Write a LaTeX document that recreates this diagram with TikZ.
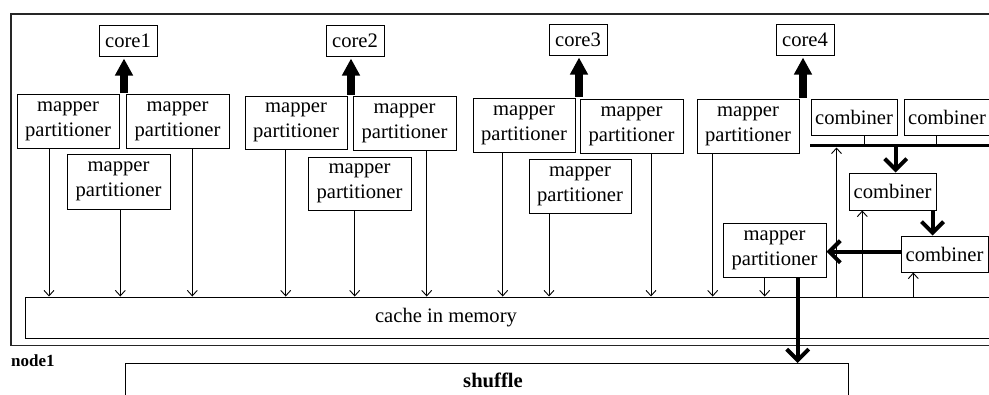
\documentclass[tikz,border=0pt]{standalone}
\usepackage{fontspec}
\setmainfont{Liberation Serif}
\usetikzlibrary{arrows.meta}

\tikzset{
  box/.style={draw, line width=1pt, inner sep=0pt, align=center,
              font=\fontsize{20.6}{25}\selectfont},
  mp/.style={box, minimum width=102pt, minimum height=54pt},
  corebox/.style={box, minimum width=58pt, minimum height=31pt},
  cmb/.style={box, minimum width=86pt, minimum height=36pt},
  flow/.style={line width=0.9pt, -{Straight Barb[length=5.5pt,width=10pt]}},
  heavy/.style={line width=4pt, -{Straight Barb[length=11pt,width=22pt]}},
  corearrow/.style={line width=8pt, -{Triangle[length=17pt,width=17pt]}},
  frameline/.style={line width=1.2pt, draw=black!85},
}

\begin{document}
\begin{tikzpicture}[x=1pt, y=-1pt]
\useasboundingbox (0,0) rectangle (989,394);
\clip (0,0) rectangle (989,394);

% node frame and shuffle stage
\draw[frameline] (11,14) rectangle (1010,345.7);
\node[anchor=base west, inner sep=0pt, font=\bfseries\fontsize{17}{17}\selectfont] (nodelabel) at (11,366) {node1};
\draw[line width=1pt] (125,363) rectangle (848,430);
\node[anchor=base, inner sep=0pt, font=\bfseries\fontsize{20.6}{25}\selectfont] (shufflelabel) at (493,387) {shuffle};

% cache
\node[box, minimum width=985pt, minimum height=41pt] (cache) at (517.5,317.5) {};
\node[inner sep=0pt, font=\fontsize{20.6}{25}\selectfont] (cachelabel) at (446,317.5) {cache in memory};

% cores
\node[corebox] (core1) at (128,40.5) {core1};
\node[corebox] (core2) at (355,40.5) {core2};
\node[corebox] (core3) at (578,39.5) {core3};
\node[corebox] (core4) at (805,39.5) {core4};

% mapper/partitioner boxes
\node[mp, minimum width=102pt] (mp1) at (68,121) {mapper\\partitioner};
\node[mp, minimum width=103pt] (mp2) at (177.5,121) {mapper\\partitioner};
\node[mp, minimum width=103pt, minimum height=55pt] (mp3) at (118.5,181.5) {mapper\\partitioner};
\node[mp, minimum height=53pt] (mp4) at (296,122.5) {mapper\\partitioner};
\node[mp, minimum width=103pt] (mp5) at (404.5,123) {mapper\\partitioner};
\node[mp, minimum width=103pt, minimum height=53pt] (mp6) at (359.5,183.5) {mapper\\partitioner};
\node[mp] (mp7) at (524,125) {mapper\\partitioner};
\node[mp, minimum width=103pt] (mp8) at (631.5,126) {mapper\\partitioner};
\node[mp] (mp9) at (580,186) {mapper\\partitioner};
\node[mp] (mp10) at (748,126) {mapper\\partitioner};
\node[mp, minimum width=103pt] (mp11) at (774.5,250) {mapper\\partitioner};

% combiners
\node[cmb] (cmbA) at (854,117) {combiner};
\node[cmb] (cmbB) at (947,117) {combiner};
\node[cmb, minimum width=87pt, minimum height=37pt] (cmbC) at (892.5,191.5) {combiner};
\node[cmb, minimum width=87pt] (cmbD) at (944.5,254) {combiner};

% arrows to cores
\coordinate (a1) at (124,93);
\coordinate (a2) at (351,95);
\coordinate (a3) at (579,97);
\coordinate (a4) at (803,98);
\draw[corearrow, shorten >=2pt] (a1) -- (a1 |- core1.south);
\draw[corearrow, shorten >=2pt] (a2) -- (a2 |- core2.south);
\draw[corearrow, shorten >=2pt] (a3) -- (a3 |- core3.south);
\draw[corearrow, shorten >=2pt] (a4) -- (a4 |- core4.south);

% mapper outputs into the cache
\draw[flow] (49,0 |- mp1.south) -- (49,0 |- cache.north);
\draw[flow] (120.3,0 |- mp3.south) -- (120.3,0 |- cache.north);
\draw[flow] (192.3,0 |- mp2.south) -- (192.3,0 |- cache.north);
\draw[flow] (285.7,0 |- mp4.south) -- (285.7,0 |- cache.north);
\draw[flow] (354.7,0 |- mp6.south) -- (354.7,0 |- cache.north);
\draw[flow] (426.7,0 |- mp5.south) -- (426.7,0 |- cache.north);
\draw[flow] (502.7,0 |- mp7.south) -- (502.7,0 |- cache.north);
\draw[flow] (549,0 |- mp9.south) -- (549,0 |- cache.north);
\draw[flow] (651,0 |- mp8.south) -- (651,0 |- cache.north);
\draw[flow] (712.7,0 |- mp10.south) -- (712.7,0 |- cache.north);
\draw[flow] (764.7,0 |- mp11.south) -- (764.7,0 |- cache.north);

% combiner bus
\coordinate (busL) at (810,145.5);
\coordinate (busR) at (1010,145.5);
\draw[line width=3.5pt] (busL) -- (busR);
\draw[line width=1pt] (864,0 |- cmbA.south) -- (864,0 |- busL);
\draw[line width=1pt] (936.7,0 |- cmbB.south) -- (936.7,0 |- busL);

% cache feeding the combiners
\draw[flow] (836.5,0 |- cache.north) -- (836.5,147.5);
\draw[flow] (862.3,0 |- cache.north) -- (862.3,0 |- cmbC.south);
\draw[flow] (913.3,0 |- cache.north) -- (913.3,0 |- cmbD.south);

% combine chain
\draw[heavy] (895.7,0 |- busL) -- (895.7,0 |- cmbC.north);
\draw[heavy] (932.5,0 |- cmbC.south) -- (932.5,0 |- cmbD.north);
\draw[heavy] (cmbD.west |- 0,251.7) -- (mp11.east |- 0,251.7);

% to the shuffle
\coordinate (shuffletop) at (797.7,363);
\draw[heavy] (797.7,0 |- mp11.south) -- (shuffletop);
\end{tikzpicture}
\end{document}
